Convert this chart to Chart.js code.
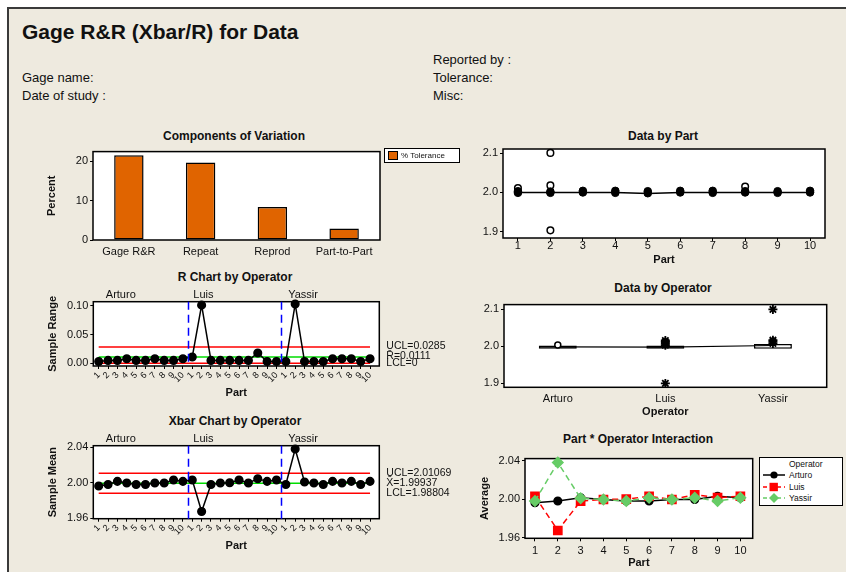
<!DOCTYPE html>
<html>
<head>
<meta charset="utf-8">
<script src="https://cdn.jsdelivr.net/npm/chart.js@4.4.0/dist/chart.umd.min.js"></script>
<style>
  html, body { margin: 0; padding: 0; width: 846px; height: 572px; overflow: hidden; background: #fff;
    font-family: "Liberation Sans", Arial, sans-serif; }
  #frame { position: absolute; left: 7px; top: 7px; width: 900px; height: 600px; background: #EEEADF;
    border-left: 2px solid #3a3a3a; border-top: 2px solid #3a3a3a; }
  canvas { position: absolute; }
  .t { position: absolute; white-space: nowrap; color: #111; line-height: 1; }
</style>
</head>
<body>
<div id="frame"></div>
<script>
// --- data ---
const componentLabels = ['Gage R&R', 'Repeat', 'Reprod', 'Part-to-Part'];
const pctTolerance = [21.5, 19.7, 8.4, 2.9];
const componentTicks = [0, 10, 20];

const operators = ['Arturo', 'Luis', 'Yassir'];
const partNumbers = [1, 2, 3, 4, 5, 6, 7, 8, 9, 10];

// Data by Part
const partMeans = [2.0, 2.0, 2.0, 2.0, 1.997, 2.0, 2.0, 2.0, 2.0, 2.0];
const partDotsLow = [1.999, 1.999, 2.0, 1.999, 1.998, 2.0, 1.999, 2.0, 1.999, 2.0];
const partDotsHigh = [2.003, 2.002, 2.004, 2.004, 2.003, 2.004, 2.004, 2.003, 2.003, 2.004];
const outlierParts = [1, 2, 2, 2, 8];
const outlierValues = [2.011, 2.101, 2.018, 1.903, 2.015];
const dataTicks = [1.9, 2.0, 2.1];

// R chart (sample ranges per operator, parts 1..10)
const rArturo = [0.003, 0.005, 0.005, 0.008, 0.005, 0.005, 0.008, 0.005, 0.005, 0.008];
const rLuis = [0.011, 0.101, 0.005, 0.005, 0.005, 0.005, 0.005, 0.018, 0.003, 0.003];
const rYassir = [0.003, 0.103, 0.003, 0.003, 0.003, 0.008, 0.008, 0.008, 0.003, 0.008];
const rLimits = [0.0285, 0.0111, 0];
const rLimitText = ['UCL=0.0285', 'R\u0304=0.0111', 'LCL=0'];
const rTicks = [0, 0.05, 0.10];

// Xbar chart / interaction (sample means per operator, parts 1..10)
const meanArturo = [1.9962, 1.998, 2.0015, 1.9996, 1.998, 1.998, 1.9996, 1.9996, 2.003, 2.0015];
const meanLuis = [2.003, 1.9675, 1.998, 1.9996, 2.0, 2.003, 1.9996, 2.0045, 2.0015, 2.003];
const meanYassir = [1.998, 2.038, 2.0008, 1.9996, 1.998, 2.0015, 1.9996, 2.0015, 1.998, 2.0015];
const xbarLimits = [2.01069, 1.99937, 1.98804];
const xbarLimitText = ['UCL=2.01069', 'X\u0304=1.99937', 'LCL=1.98804'];
const xbarTicks = [1.96, 2.00, 2.04];

// Data by Operator
const boxLow = [1.994, 1.994, 1.994];
const boxHigh = [2.0025, 2.0025, 2.0068];
const operatorMeans = [1.9985, 1.9983, 2.0025];
const arturoOutliers = [2.004];
const luisStars = [2.016, 2.012, 2.007, 2.003, 1.9];
const yassirStars = [2.1, 2.017, 2.013, 2.008];

const operatorBreaks = [10.5, 20.5];
const operatorLabelAt = [3.36, 12.19, 22.84];

// --- helpers ---
const FONT = '"Liberation Sans", Arial, sans-serif';
Chart.defaults.font.family = FONT;
Chart.defaults.color = '#111';
Chart.defaults.animation = false;
Chart.defaults.plugins.legend.display = false;
Chart.defaults.plugins.tooltip.enabled = false;

// white plot area with black frame
Chart.register({
  id: 'plotBox',
  beforeDraw(chart) {
    const a = chart.chartArea, ctx = chart.ctx;
    ctx.save();
    ctx.fillStyle = '#fff';
    ctx.fillRect(a.left, a.top, a.width, a.height);
    ctx.restore();
  },
  beforeDatasetsDraw(chart) {
    const a = chart.chartArea, ctx = chart.ctx;
    ctx.save();
    ctx.strokeStyle = '#000';
    ctx.lineWidth = 1.5;
    ctx.strokeRect(a.left, a.top, a.width, a.height);
    ctx.restore();
  }
});

function label(text, x, y, css, centered) {
  const d = document.createElement('div');
  d.className = 't';
  d.textContent = text;
  d.style.cssText += css;
  d.style.left = x + 'px';
  d.style.top = y + 'px';
  d.style.transform = centered ? 'translate(-50%,-50%)' : 'translateY(-50%)';
  document.body.appendChild(d);
}

function makeChart(left, top, w, h, cfg) {
  const c = document.createElement('canvas');
  c.width = w; c.height = h;
  c.style.left = left + 'px'; c.style.top = top + 'px';
  c.style.width = w + 'px'; c.style.height = h + 'px';
  document.body.appendChild(c);
  cfg.options.responsive = false;
  cfg.options.animation = false;
  return new Chart(c, cfg);
}

function yAxis(min, max, ticks, width, title, titlePad, digits) {
  return {
    type: 'linear', min, max,
    afterBuildTicks: s => { s.ticks = ticks.map(v => ({ value: v })); },
    afterFit: s => { s.width = width; },
    border: { display: false },
    grid: { drawOnChartArea: false, tickLength: 3, tickColor: '#000', lineWidth: 1 },
    ticks: { padding: 2, font: { size: 11 }, color: '#111', callback: v => v.toFixed(digits) },
    title: { display: !!title, text: title, font: { size: 11, weight: 'bold' }, color: '#111',
      padding: { top: titlePad, bottom: 0 } }
  };
}

function xLinear(min, max, ticks, height, fmt, tickPad, titlePad, rotate, size) {
  return {
    type: 'linear', min, max,
    afterBuildTicks: s => { s.ticks = ticks.map(v => ({ value: v })); },
    afterFit: s => { s.height = height; },
    border: { display: false },
    grid: { drawOnChartArea: false, tickLength: 3, tickColor: '#000', lineWidth: 1 },
    ticks: { padding: tickPad, autoSkip: false, font: { size: size || 11 }, color: '#111',
      minRotation: rotate || 0, maxRotation: rotate || 0, callback: fmt },
    title: { display: true, text: 'Part', font: { size: 11, weight: 'bold' }, color: '#111',
      padding: { top: 0, bottom: titlePad } }
  };
}

// --- header ---
label('Gage R&R (Xbar/R) for Data', 22, 31, 'font-size:21px;font-weight:bold;');
label('Reported by :', 433, 59, 'font-size:13px;');
label('Gage name:', 22, 77, 'font-size:13px;');
label('Tolerance:', 433, 77, 'font-size:13px;');
label('Date of study :', 22, 95, 'font-size:13px;');
label('Misc:', 433, 95, 'font-size:13px;');

// panel titles
const PT = 'font-size:12px;font-weight:bold;';
label('Components of Variation', 234, 136, PT, true);
label('Data by Part', 663, 136, PT, true);
label('R Chart by Operator', 235, 277, PT, true);
label('Data by Operator', 663, 288, PT, true);
label('Xbar Chart by Operator', 235, 421, PT, true);
label('Part * Operator Interaction', 638, 439, PT, true);

// --- Components of Variation ---
makeChart(40, 143, 350, 120, {
  type: 'bar',
  data: {
    labels: componentLabels,
    datasets: [{ data: pctTolerance, backgroundColor: '#E06400', borderColor: '#000', borderWidth: 1.5,
      borderSkipped: false, barPercentage: 0.41, categoryPercentage: 1 }]
  },
  options: {
    layout: { padding: { top: 5, right: 10, left: 0, bottom: 0 } },
    scales: {
      x: { type: 'category', offset: true, afterFit: s => { s.height = 23; },
        border: { display: false }, grid: { display: false, drawTicks: false },
        ticks: { padding: 5.5, font: { size: 11 }, color: '#111', autoSkip: false, maxRotation: 0 } },
      y: yAxis(0, 22.44, componentTicks, 53, 'Percent', 5, 0)
    }
  }
});
// legend box
(function () {
  const box = document.createElement('div');
  box.style.cssText = 'position:absolute;left:384px;top:148px;width:74px;height:13px;border:1px solid #000;background:#fff;';
  const sw = document.createElement('div');
  sw.style.cssText = 'position:absolute;left:3px;top:2px;width:8px;height:7px;background:#E06400;border:1px solid #000;';
  box.appendChild(sw);
  const tx = document.createElement('div');
  tx.textContent = '% Tolerance';
  tx.style.cssText = 'position:absolute;left:16px;top:2px;font-size:8px;line-height:9px;white-space:nowrap;color:#111;';
  box.appendChild(tx);
  document.body.appendChild(box);
})();

// --- Data by Part ---
makeChart(470, 140, 370, 128, {
  type: 'line',
  data: {
    datasets: [
      { data: partNumbers.map((p, i) => ({ x: p, y: partMeans[i] })), borderColor: '#000', borderWidth: 1.5,
        pointRadius: 0 },
      { data: partNumbers.map((p, i) => ({ x: p, y: partDotsLow[i] })), showLine: false, pointRadius: 3.8,
        pointBackgroundColor: '#000', pointBorderColor: '#000' },
      { data: partNumbers.map((p, i) => ({ x: p, y: partDotsHigh[i] })), showLine: false, pointRadius: 3.8,
        pointBackgroundColor: '#000', pointBorderColor: '#000' },
      { data: outlierParts.map((p, i) => ({ x: p, y: outlierValues[i] })), showLine: false, pointRadius: 3.3,
        pointBackgroundColor: '#fff', pointBorderColor: '#000', pointBorderWidth: 1.5, clip: false }
    ]
  },
  options: {
    layout: { padding: { top: 9, right: 15, left: 0, bottom: 0 } },
    scales: {
      x: xLinear(0.54, 10.46, partNumbers, 30, v => String(v), -1.5, 1.4),
      y: yAxis(1.8835, 2.111, dataTicks, 33, '', 0, 1)
    }
  }
});

// --- control chart plugin (R and Xbar) ---
function controlPlugin(limitValues, limitText) {
  return {
    id: 'ctl',
    afterDatasetsDraw(chart) {
      const { ctx, chartArea: a, scales: { x, y } } = chart;
      ctx.save();
      ctx.strokeStyle = '#0000ff';
      ctx.lineWidth = 1.5;
      ctx.setLineDash([8, 5]);
      operatorBreaks.forEach(b => {
        const px = Math.round(x.getPixelForValue(b)) + 0.5;
        ctx.beginPath(); ctx.moveTo(px, a.top); ctx.lineTo(px, a.bottom); ctx.stroke();
      });
      ctx.setLineDash([]);
      ctx.fillStyle = '#111';
      ctx.font = '11px ' + FONT;
      ctx.textAlign = 'center';
      ctx.textBaseline = 'middle';
      operators.forEach((o, i) => ctx.fillText(o, x.getPixelForValue(operatorLabelAt[i]), a.top - 6.5));
      ctx.textAlign = 'left';
      ctx.font = '10.5px ' + FONT;
      limitValues.forEach((v, i) => ctx.fillText(limitText[i], a.right + 7, y.getPixelForValue(v) - 0.5));
      ctx.restore();
    }
  };
}

function limitSets(values) {
  const colors = ['#ff0000', '#00dd00', '#ff0000'];
  return values.map((v, i) => ({
    data: [{ x: 1, y: v }, { x: 30, y: v }], borderColor: colors[i], borderWidth: 1.5, pointRadius: 0
  }));
}

const sampleIndex = Array.from({ length: 30 }, (_, i) => i + 1);
const partTickLabel = v => String(partNumbers[(v - 1) % 10]);

// --- R Chart by Operator ---
const rAll = [...rArturo, ...rLuis, ...rYassir];
makeChart(40, 286, 420, 114, {
  type: 'line',
  data: {
    datasets: [
      { data: rAll.map((v, i) => ({ x: sampleIndex[i], y: v })), borderColor: '#000', borderWidth: 1.5,
        pointRadius: 3.8, pointBackgroundColor: '#000', pointBorderColor: '#000', clip: false },
      ...limitSets(rLimits)
    ]
  },
  options: {
    layout: { padding: { top: 15.7, right: 80.7, left: 0, bottom: 0 } },
    scales: {
      x: xLinear(0.423, 30.99, sampleIndex, 34, partTickLabel, 1, 0.7, 45, 9),
      y: yAxis(-0.0047, 0.107, rTicks, 53.3, 'Sample Range', 6.7, 2)
    }
  },
  plugins: [controlPlugin(rLimits, rLimitText)]
});

// --- Xbar Chart by Operator ---
const xbarAll = [...meanArturo, ...meanLuis, ...meanYassir];
makeChart(40, 430, 420, 123, {
  type: 'line',
  data: {
    datasets: [
      { data: xbarAll.map((v, i) => ({ x: sampleIndex[i], y: v })), borderColor: '#000', borderWidth: 1.5,
        pointRadius: 3.8, pointBackgroundColor: '#000', pointBorderColor: '#000', clip: false },
      ...limitSets(xbarLimits)
    ]
  },
  options: {
    layout: { padding: { top: 15.7, right: 80.7, left: 0, bottom: 0 } },
    scales: {
      x: xLinear(0.423, 30.99, sampleIndex, 34.3, partTickLabel, 1, 0.4, 45, 9),
      y: yAxis(1.9593, 2.0418, xbarTicks, 53.3, 'Sample Mean', 6, 2)
    }
  },
  plugins: [controlPlugin(xbarLimits, xbarLimitText)]
});

// --- Data by Operator ---
makeChart(470, 296, 370, 124, {
  type: 'bar',
  data: {
    labels: operators,
    datasets: [
      { type: 'line', data: [...luisStars.map(v => ({ x: 'Luis', y: v })), ...yassirStars.map(v => ({ x: 'Yassir', y: v }))],
        showLine: false, pointStyle: 'star', pointRadius: 4.5, pointBorderColor: '#000', pointBorderWidth: 1.8, clip: false },
      { type: 'line', data: arturoOutliers.map(v => ({ x: 'Arturo', y: v })), showLine: false,
        pointRadius: 3, pointBackgroundColor: '#fff', pointBorderColor: '#000', pointBorderWidth: 1.5 },
      { type: 'line', data: operatorMeans, borderColor: '#000', borderWidth: 1.2, pointRadius: 0 },
      { type: 'bar', data: operators.map((o, i) => [boxLow[i], boxHigh[i]]), backgroundColor: ['#000', '#000', '#fff'],
        borderColor: '#000', borderWidth: 1.5, borderSkipped: false, barPercentage: 0.353, categoryPercentage: 1 }
    ]
  },
  options: {
    layout: { padding: { top: 5, right: 13.3, left: 0, bottom: 0 } },
    scales: {
      x: { type: 'category', offset: true, afterFit: s => { s.height = 32.7; },
        border: { display: false }, grid: { display: false, drawTicks: false },
        ticks: { padding: 5.5, font: { size: 11 }, color: '#111', maxRotation: 0 },
        title: { display: true, text: 'Operator', font: { size: 11, weight: 'bold' }, color: '#111',
          padding: { top: 0, bottom: 1.7 } } },
      y: yAxis(1.8894, 2.1131, dataTicks, 34, '', 0, 1)
    }
  }
});

// --- Part * Operator Interaction ---
makeChart(470, 450, 290, 122, {
  type: 'line',
  data: {
    datasets: [
      { data: partNumbers.map((p, i) => ({ x: p, y: meanYassir[i] })), borderColor: '#66CC66', borderWidth: 1.5,
        borderDash: [6, 4], pointStyle: 'rectRot', pointRadius: 5.2, pointBackgroundColor: '#66CC66',
        pointBorderColor: '#66CC66', clip: false },
      { data: partNumbers.map((p, i) => ({ x: p, y: meanLuis[i] })), borderColor: '#ff0000', borderWidth: 1.5,
        borderDash: [6, 4], pointStyle: 'rect', pointRadius: 5.8, pointBackgroundColor: '#ff0000',
        pointBorderColor: '#ff0000', clip: false },
      { data: partNumbers.map((p, i) => ({ x: p, y: meanArturo[i] })), borderColor: '#000', borderWidth: 1.5,
        pointRadius: 3.8, pointBackgroundColor: '#000', pointBorderColor: '#000' }
    ]
  },
  options: {
    layout: { padding: { top: 5.7, right: 7, left: 0, bottom: 0 } },
    scales: {
      x: xLinear(0.5626, 10.54, partNumbers, 33.7, v => String(v), 3, 2.1),
      y: yAxis(1.9594, 2.042, xbarTicks, 55, 'Average', 8.4, 2)
    }
  }
});

// interaction legend
(function () {
  const box = document.createElement('div');
  box.style.cssText = 'position:absolute;left:759px;top:457px;width:82px;height:47px;border:1px solid #000;background:#fff;';
  document.body.appendChild(box);
  const head = document.createElement('div');
  head.textContent = 'Operator';
  head.style.cssText = 'position:absolute;left:29px;top:1px;font-size:8.5px;line-height:10px;color:#111;';
  box.appendChild(head);
  const items = [
    { name: 'Arturo', color: '#000', dash: '', marker: '<circle cx="11" cy="5" r="3.6" fill="#000"/>' },
    { name: 'Luis', color: '#ff0000', dash: '4 3', marker: '<rect x="6.5" y="0.8" width="8.4" height="8.4" fill="#ff0000"/>' },
    { name: 'Yassir', color: '#66CC66', dash: '4 3', marker: '<polygon points="11,0 16,5 11,10 6,5" fill="#66CC66"/>' }
  ];
  items.forEach((it, i) => {
    const row = document.createElement('div');
    row.style.cssText = 'position:absolute;left:3px;top:' + (12 + i * 11.5) + 'px;width:78px;height:10px;';
    row.innerHTML = '<svg width="22" height="10" style="position:absolute;left:0;top:0">' +
      '<line x1="0" y1="5" x2="22" y2="5" stroke="' + it.color + '" stroke-width="1.5"' +
      (it.dash ? ' stroke-dasharray="' + it.dash + '"' : '') + '/>' + it.marker + '</svg>' +
      '<span style="position:absolute;left:26px;top:0;font-size:8.5px;line-height:10px;color:#111;">' + it.name + '</span>';
    box.appendChild(row);
  });
})();
</script>
</body>
</html>
